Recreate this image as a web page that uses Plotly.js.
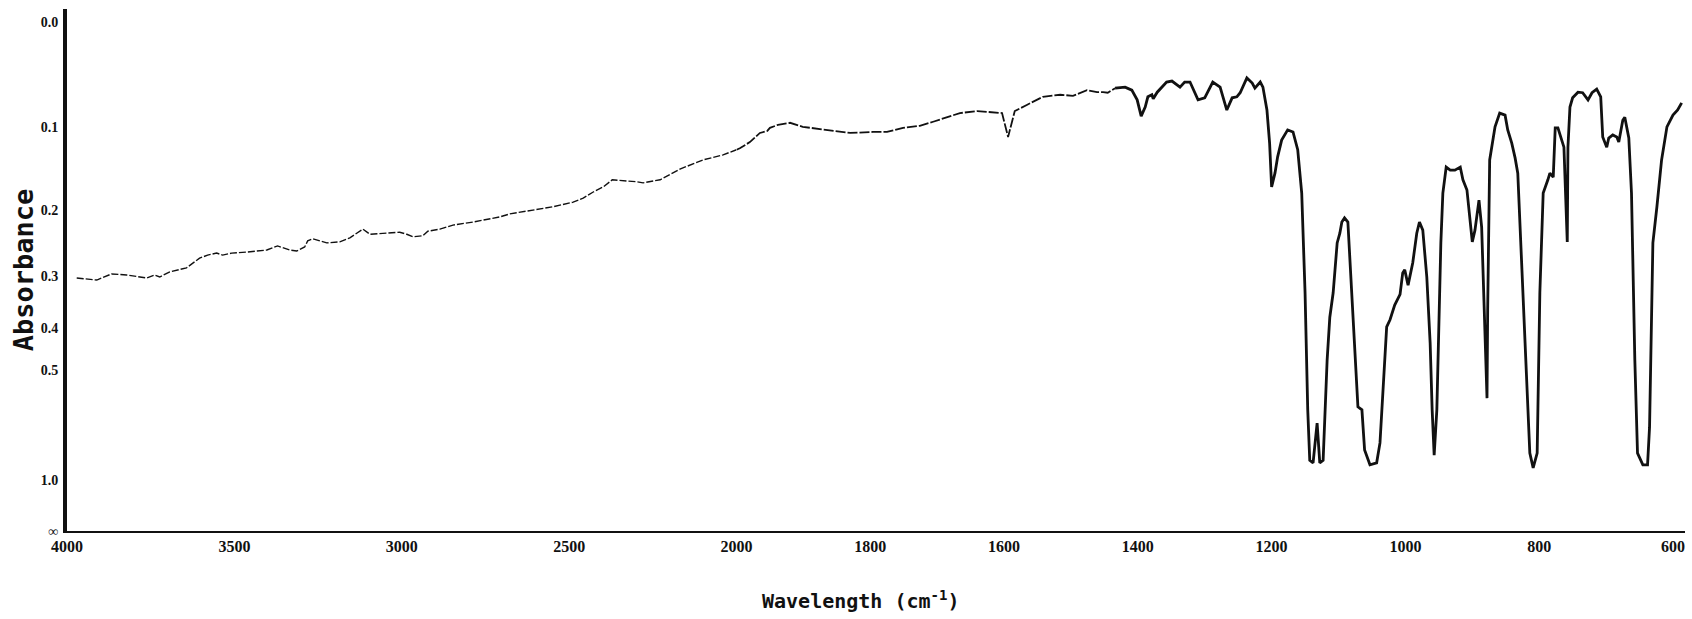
<!DOCTYPE html>
<html>
<head>
<meta charset="utf-8">
<script src="https://cdn.plot.ly/plotly-3.0.1.min.js"></script>
<style>
  html, body { margin: 0; padding: 0; background: #ffffff; }
  #chart { width: 1692px; height: 619px; }
</style>
</head>
<body>
<div id="chart"></div>
<script>
// Infrared spectrum: wavenumber (cm-1) and fractional transmittance.
// The vertical scale is linear in transmittance and labelled in absorbance.
var wavenumbers = [
  3971, 3911, 3867, 3822, 3762, 3738, 3723, 3693, 3643, 3604,
  3580, 3553, 3535, 3508, 3463, 3403, 3371, 3335, 3314, 3290,
  3281, 3266, 3224, 3185, 3155, 3116, 3095, 3044, 3006, 2985,
  2967, 2937, 2922, 2886, 2847, 2787, 2707, 2677, 2596, 2548,
  2488, 2458, 2428, 2398, 2371, 2327, 2297, 2279, 2228, 2169,
  2100, 2040, 2000,
  1995, 1980, 1965, 1954, 1950, 1938, 1920, 1901, 1865, 1830,
  1796, 1775, 1751, 1726, 1706, 1685, 1666, 1640, 1616, 1603,
  1594, 1584, 1566, 1542, 1516, 1497, 1476, 1461, 1452, 1445,
  1434, 1419, 1409, 1401, 1395, 1389, 1385, 1379, 1377, 1371,
  1357, 1349, 1337, 1330, 1322, 1310, 1300, 1288, 1277, 1267,
  1259, 1252, 1247, 1237, 1229, 1225, 1217, 1213, 1207, 1203,
  1200, 1195, 1191, 1185, 1176, 1168, 1161, 1155, 1150, 1146,
  1143, 1138, 1132, 1128, 1123, 1117, 1113, 1108, 1102, 1098,
  1095, 1091, 1086, 1080, 1076, 1071, 1065, 1061, 1053, 1043,
  1038, 1028, 1023, 1016, 1008, 1004, 1001, 996, 989, 983,
  979, 974, 968, 963, 960, 957, 953, 950, 947, 944,
  939, 933, 926, 918, 914, 908, 900, 896, 890, 886,
  881, 878, 877, 874, 866, 859, 851, 847, 841, 836,
  832, 824, 818, 814, 809, 803, 799, 794, 787, 784,
  779, 776, 772, 766, 763, 758, 757, 754, 750, 742,
  735, 727, 721, 714, 708, 705, 699, 696, 690, 684,
  681, 675, 672, 666, 662, 657, 653, 645, 638, 635,
  632, 630, 624, 617, 609, 600, 593, 587
];
var transmittance = [
  0.497, 0.493, 0.505, 0.503, 0.497, 0.503, 0.499, 0.509, 0.517, 0.536,
  0.542, 0.546, 0.542, 0.546, 0.548, 0.552, 0.560, 0.552, 0.550, 0.558,
  0.570, 0.574, 0.566, 0.568, 0.576, 0.593, 0.583, 0.585, 0.587, 0.583,
  0.578, 0.580, 0.589, 0.593, 0.601, 0.607, 0.617, 0.623, 0.631, 0.637,
  0.646, 0.654, 0.666, 0.676, 0.690, 0.688, 0.686, 0.684, 0.690, 0.711,
  0.729, 0.739, 0.749,
  0.752, 0.764, 0.782, 0.786, 0.792, 0.798, 0.802, 0.794, 0.788, 0.782,
  0.784, 0.784, 0.792, 0.796, 0.804, 0.813, 0.821, 0.825, 0.823, 0.821,
  0.774, 0.825, 0.837, 0.853, 0.857, 0.855, 0.866, 0.862, 0.862, 0.861,
  0.870, 0.872, 0.866, 0.847, 0.815, 0.833, 0.853, 0.857, 0.849, 0.862,
  0.882, 0.884, 0.872, 0.882, 0.882, 0.847, 0.851, 0.882, 0.872, 0.827,
  0.851, 0.853, 0.861, 0.890, 0.880, 0.870, 0.882, 0.872, 0.827, 0.762,
  0.676, 0.703, 0.735, 0.768, 0.788, 0.784, 0.749, 0.664, 0.468, 0.238,
  0.139, 0.134, 0.212, 0.134, 0.139, 0.336, 0.420, 0.468, 0.566, 0.585,
  0.607, 0.615, 0.607, 0.468, 0.350, 0.244, 0.238, 0.159, 0.130, 0.134,
  0.173, 0.401, 0.415, 0.444, 0.465, 0.507, 0.513, 0.483, 0.527, 0.585,
  0.607, 0.591, 0.499, 0.369, 0.238, 0.149, 0.238, 0.401, 0.566, 0.664,
  0.715, 0.709, 0.709, 0.715, 0.690, 0.670, 0.568, 0.591, 0.650, 0.597,
  0.369, 0.261, 0.434, 0.729, 0.794, 0.821, 0.817, 0.788, 0.762, 0.733,
  0.703, 0.468, 0.303, 0.153, 0.124, 0.153, 0.468, 0.664, 0.690, 0.703,
  0.695, 0.792, 0.792, 0.764, 0.754, 0.568, 0.754, 0.833, 0.851, 0.862,
  0.861, 0.847, 0.861, 0.868, 0.853, 0.774, 0.754, 0.772, 0.778, 0.774,
  0.764, 0.807, 0.813, 0.772, 0.664, 0.336, 0.153, 0.130, 0.130, 0.204,
  0.468, 0.566, 0.637, 0.729, 0.794, 0.817, 0.827, 0.841
];

// Absorbance gridmarks on the left scale (position = 10^-A)
var absorbanceTicks = [0, 0.1, 0.2, 0.3, 0.4, 0.5, 1.0, Infinity];
var absorbanceLabels = ['0.0', '0.1', '0.2', '0.3', '0.4', '0.5', '1.0', '\u221e'];

// Wavenumber labels: compressed scale above 2000, expanded below
var wavenumberTicksHigh = [4000, 3500, 3000, 2500, 2000];
var wavenumberTicksLow = [1800, 1600, 1400, 1200, 1000, 800, 600];

var SPLIT = 2000;      // scale change of the abscissa
var PEN_CHANGE = 1434; // trace is drawn heavier from here down

function pick(test) {
  var xs = [], ys = [];
  for (var i = 0; i < wavenumbers.length; i++) {
    if (test(wavenumbers[i])) { xs.push(wavenumbers[i]); ys.push(transmittance[i]); }
  }
  return { x: xs, y: ys };
}

var high = pick(function (w) { return w >= SPLIT; });
var mid = pick(function (w) { return w <= SPLIT && w >= PEN_CHANGE; });
var low = pick(function (w) { return w <= PEN_CHANGE; });

var ink = '#111111';
var traces = [
  { x: high.x, y: high.y, xaxis: 'x', yaxis: 'y', mode: 'lines',
    line: { color: ink, width: 1.4, dash: '7px,2px' }, hoverinfo: 'x+y' },
  { x: mid.x, y: mid.y, xaxis: 'x2', yaxis: 'y', mode: 'lines',
    line: { color: ink, width: 1.8, dash: '10px,2px' }, hoverinfo: 'x+y' },
  { x: low.x, y: low.y, xaxis: 'x2', yaxis: 'y', mode: 'lines',
    line: { color: ink, width: 2.8 }, hoverinfo: 'x+y' }
];

var tickFont = { family: 'Liberation Sans Narrow, Liberation Serif, serif', size: 16, color: ink, weight: 'bold' };
var splitFrac = 669.5 / 1618;

var layout = {
  width: 1692,
  height: 619,
  margin: { l: 67, r: 7, t: 9, b: 88 },
  paper_bgcolor: '#ffffff',
  plot_bgcolor: '#ffffff',
  showlegend: false,
  xaxis: {
    domain: [0, splitFrac],
    anchor: 'y',
    range: [4000, 2000],
    tickmode: 'array',
    tickvals: wavenumberTicksHigh,
    ticktext: wavenumberTicksHigh.map(String),
    ticks: '',
    ticklabelstandoff: 0,
    tickfont: tickFont,
    showgrid: false,
    zeroline: false,
    showline: true,
    linecolor: ink,
    linewidth: 2
  },
  xaxis2: {
    domain: [splitFrac, 1],
    anchor: 'y',
    range: [2000, 582],
    tickmode: 'array',
    tickvals: wavenumberTicksLow,
    ticktext: wavenumberTicksLow.map(String),
    ticks: '',
    ticklabelstandoff: 0,
    tickfont: tickFont,
    showgrid: false,
    zeroline: false,
    showline: true,
    linecolor: ink,
    linewidth: 2
  },
  yaxis: {
    range: [0, 1.0255],
    tickmode: 'array',
    tickvals: absorbanceTicks.map(function (a) { return Math.pow(10, -a); }),
    ticktext: absorbanceLabels,
    ticks: '',
    ticklabelstandoff: 2,
    tickfont: { family: 'Liberation Serif, serif', size: 14, color: ink, weight: 'bold' },
    showgrid: false,
    zeroline: false,
    showline: true,
    linecolor: ink,
    linewidth: 4,
    title: {
      text: 'Absorbance',
      standoff: 0,
      font: { family: 'DejaVu Sans Mono, monospace', size: 27, color: ink, weight: 'bold' }
    }
  },
  annotations: [{
    text: 'Wavelength (cm<sup>-1</sup>)',
    xref: 'paper', yref: 'paper',
    x: (860 - 67) / 1618, y: 0,
    xanchor: 'center', yanchor: 'middle',
    yshift: -69,
    showarrow: false,
    font: { family: 'DejaVu Sans Mono, monospace', size: 20, color: ink, weight: 'bold' }
  }]
};

Plotly.newPlot('chart', traces, layout, { displayModeBar: false, responsive: false });
</script>
</body>
</html>
